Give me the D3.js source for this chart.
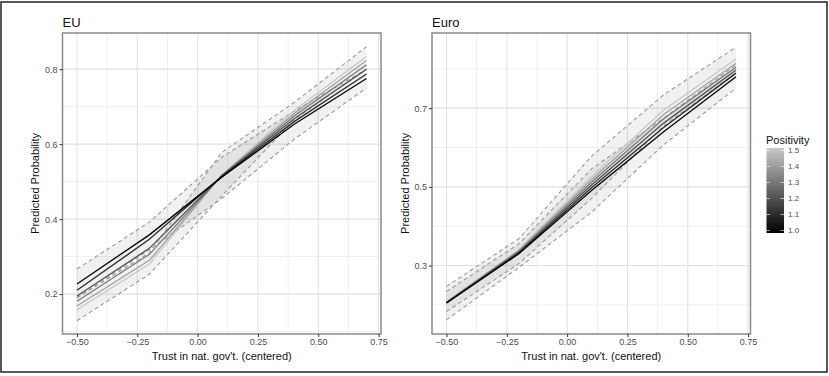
<!DOCTYPE html>
<html>
<head>
<meta charset="utf-8">
<script src="https://cdn.jsdelivr.net/npm/d3@7"></script>
<style>
  html, body { margin: 0; padding: 0; background: #fff; }
  svg { display: block; font-family: "Liberation Sans", Arial, sans-serif; }
</style>
</head>
<body>
<svg id="chart" width="829" height="376"></svg>
<script>
// ---------------- DATA ----------------
const xValues = [-0.5, -0.2, 0.1, 0.4, 0.7];
const positivity = [1.0, 1.1, 1.2, 1.3, 1.4, 1.5];

// EU panel: predicted probability per positivity level
const euLines = [
  [0.227, 0.358, 0.512, 0.653, 0.775],
  [0.210, 0.346, 0.514, 0.660, 0.787],
  [0.195, 0.322, 0.515, 0.668, 0.800],
  [0.181, 0.306, 0.516, 0.675, 0.812],
  [0.168, 0.290, 0.517, 0.682, 0.823],
  [0.158, 0.280, 0.518, 0.690, 0.834]
];
// EU confidence bands (for positivity 1.0 and 1.5)
const euBandLevels = [1.0, 1.5];
const euBandLower = [
  [0.190, 0.318, 0.455, 0.613, 0.750],
  [0.129, 0.253, 0.462, 0.665, 0.800]
];
const euBandUpper = [
  [0.267, 0.392, 0.565, 0.688, 0.800],
  [0.190, 0.310, 0.578, 0.711, 0.860]
];

// Euro panel
const euroLines = [
  [0.205, 0.330, 0.490, 0.640, 0.780],
  [0.205, 0.332, 0.497, 0.651, 0.789],
  [0.206, 0.334, 0.504, 0.662, 0.797],
  [0.206, 0.336, 0.511, 0.673, 0.804],
  [0.207, 0.338, 0.518, 0.684, 0.814],
  [0.207, 0.340, 0.525, 0.695, 0.825]
];
const euroBandLevels = [1.0, 1.5];
const euroBandLower = [
  [0.162, 0.295, 0.435, 0.607, 0.751],
  [0.183, 0.305, 0.470, 0.655, 0.790]
];
const euroBandUpper = [
  [0.234, 0.355, 0.545, 0.675, 0.810],
  [0.247, 0.368, 0.577, 0.734, 0.855]
];

// Axis ticks
const xTicks = [-0.5, -0.25, 0, 0.25, 0.5, 0.75];
const xMinor = [-0.375, -0.125, 0.125, 0.375, 0.625];
const euYTicks = [0.2, 0.4, 0.6, 0.8];
const euYMinor = [0.1, 0.3, 0.5, 0.7];
const euroYTicks = [0.3, 0.5, 0.7];
const euroYMinor = [0.2, 0.4, 0.6, 0.8];
const legendTicks = [1.0, 1.1, 1.2, 1.3, 1.4, 1.5];

const titles = ["EU", "Euro"];
const xTitle = "Trust in nat. gov't. (centered)";
const yTitle = "Predicted Probability";
const legendTitle = "Positivity";

// ---------------- DRAW ----------------
const svg = d3.select("#chart");
const color = d3.scaleLinear().domain([1.0, 1.5]).range(["#000000", "#c8c8c8"]);

// outer frame
svg.append("rect").attr("x", 1).attr("y", 2).attr("width", 826).attr("height", 370)
  .attr("fill", "none").attr("stroke", "#222").attr("stroke-width", 1.5);

function panel(cfg) {
  const { x0, x1, y0, y1, yDomain, yTicks, yMinor, lines, bandLower, bandUpper, bandLevels, title, yTitleX } = cfg;
  const x = d3.scaleLinear().domain([-0.56, 0.76]).range([x0, x1]);
  const y = d3.scaleLinear().domain(yDomain).range([y1, y0]);
  const g = svg.append("g");

  // grid
  const grid = g.append("g");
  xMinor.forEach(v => grid.append("line").attr("x1", x(v)).attr("x2", x(v)).attr("y1", y0).attr("y2", y1)
    .attr("stroke", "#efefef").attr("stroke-width", 1));
  yMinor.forEach(v => grid.append("line").attr("x1", x0).attr("x2", x1).attr("y1", y(v)).attr("y2", y(v))
    .attr("stroke", "#efefef").attr("stroke-width", 1));
  xTicks.forEach(v => grid.append("line").attr("x1", x(v)).attr("x2", x(v)).attr("y1", y0).attr("y2", y1)
    .attr("stroke", "#e2e2e2").attr("stroke-width", 1.1));
  yTicks.forEach(v => grid.append("line").attr("x1", x0).attr("x2", x1).attr("y1", y(v)).attr("y2", y(v))
    .attr("stroke", "#e2e2e2").attr("stroke-width", 1.1));

  // bands
  bandLevels.forEach((lvl, i) => {
    const pts = xValues.map((xv, j) => ({ x: xv, lo: bandLower[i][j], hi: bandUpper[i][j] }));
    g.append("path").datum(pts)
      .attr("d", d3.area().x(d => x(d.x)).y0(d => y(d.lo)).y1(d => y(d.hi)))
      .attr("fill", "#000").attr("fill-opacity", 0.055);
  });
  bandLevels.forEach((lvl, i) => {
    [bandLower[i], bandUpper[i]].forEach(arr => {
      g.append("path").datum(xValues.map((xv, j) => [xv, arr[j]]))
        .attr("d", d3.line().x(d => x(d[0])).y(d => y(d[1])))
        .attr("fill", "none").attr("stroke", "#9a9a9a").attr("stroke-width", 1.1)
        .attr("stroke-dasharray", "4,3");
    });
  });

  // lines (light first, dark last)
  positivity.map((p, i) => i).reverse().forEach(i => {
    g.append("path").datum(xValues.map((xv, j) => [xv, lines[i][j]]))
      .attr("d", d3.line().x(d => x(d[0])).y(d => y(d[1])))
      .attr("fill", "none").attr("stroke", color(positivity[i])).attr("stroke-width", 1.3);
  });

  // panel border
  g.append("rect").attr("x", x0).attr("y", y0).attr("width", x1 - x0).attr("height", y1 - y0)
    .attr("fill", "none").attr("stroke", "#8a8a8a").attr("stroke-width", 1.5);

  // axes
  const xAxis = d3.axisBottom(x).tickValues(xTicks).tickFormat(d3.format(".2f")).tickSize(3).tickPadding(2);
  const ax = g.append("g").attr("transform", `translate(0,${y1})`).call(xAxis);
  const yAxis = d3.axisLeft(y).tickValues(yTicks).tickFormat(d3.format(".1f")).tickSize(3).tickPadding(2);
  const ay = g.append("g").attr("transform", `translate(${x0},0)`).call(yAxis);
  [ax, ay].forEach(a => {
    a.select(".domain").remove();
    a.selectAll(".tick line").attr("stroke", "#333");
    a.selectAll(".tick text").attr("fill", "#4d4d4d").style("font-size", "9px")
      .style("font-family", "Liberation Sans, Arial, sans-serif");
  });

  // titles
  g.append("text").attr("x", x0).attr("y", 27).text(title)
    .style("font-size", "13px").attr("fill", "#111");
  g.append("text").attr("x", (x0 + x1) / 2).attr("y", 360).attr("text-anchor", "middle")
    .text(xTitle).style("font-size", "11px").attr("fill", "#111");
  g.append("text").attr("transform", `translate(${yTitleX},${(y0 + y1) / 2}) rotate(-90)`)
    .attr("text-anchor", "middle").attr("dy", "0.35em")
    .text(yTitle).style("font-size", "11px").attr("fill", "#111");
}

panel({ x0: 62.5, x1: 381, y0: 33, y1: 334, yDomain: [0.0935, 0.8965], yTicks: euYTicks, yMinor: euYMinor,
  lines: euLines, bandLower: euBandLower, bandUpper: euBandUpper, bandLevels: euBandLevels, title: titles[0], yTitleX: 35 });
panel({ x0: 432, x1: 750.5, y0: 33, y1: 334, yDomain: [0.126, 0.891], yTicks: euroYTicks, yMinor: euroYMinor,
  lines: euroLines, bandLower: euroBandLower, bandUpper: euroBandUpper, bandLevels: euroBandLevels, title: titles[1], yTitleX: 405 });

// legend
const lg = svg.append("g");
const ly = d3.scaleLinear().domain([1.0, 1.5]).range([230.5, 150.5]);
const defs = svg.append("defs");
const grad = defs.append("linearGradient").attr("id", "pgrad").attr("x1", 0).attr("x2", 0).attr("y1", 1).attr("y2", 0);
grad.append("stop").attr("offset", "0%").attr("stop-color", color(1.0));
grad.append("stop").attr("offset", "100%").attr("stop-color", color(1.5));
lg.append("text").attr("x", 766).attr("y", 144).text(legendTitle).style("font-size", "11px").attr("fill", "#111");
lg.append("rect").attr("x", 766.5).attr("y", ly(1.5) - 2.5).attr("width", 17.5).attr("height", ly(1.0) - ly(1.5) + 5)
  .attr("fill", "url(#pgrad)");
legendTicks.forEach(v => {
  lg.append("line").attr("x1", 766.5).attr("x2", 770).attr("y1", ly(v)).attr("y2", ly(v)).attr("stroke", "#fff").attr("stroke-opacity", 0.6);
  lg.append("line").attr("x1", 780.5).attr("x2", 784).attr("y1", ly(v)).attr("y2", ly(v)).attr("stroke", "#fff").attr("stroke-opacity", 0.6);
  lg.append("text").attr("x", 788).attr("y", ly(v)).attr("dy", "0.35em").text(d3.format(".1f")(v))
    .style("font-size", "8px").attr("fill", "#4d4d4d");
});
</script>
</body>
</html>
